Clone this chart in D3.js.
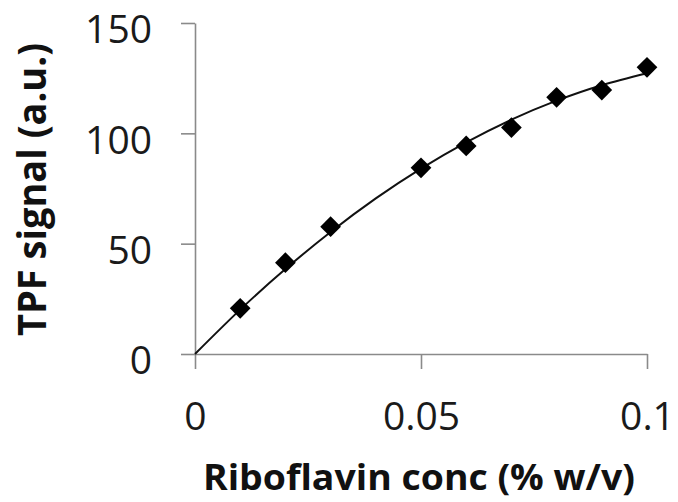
<!DOCTYPE html>
<html lang="en">
<head>
    <meta charset="UTF-8">
    <title>TPF signal vs riboflavin</title>
    <script src="https://cdn.jsdelivr.net/npm/d3@7"></script>
    <style>
        body { margin: 0; background: #fff; }
        text { font-family: "Open Sans", sans-serif; }
    </style>
</head>
<body>

<div id="chart"></div>

<script>
    // measured points (riboflavin % w/v -> TPF signal a.u.)
    const conc = [0.01, 0.02, 0.03, 0.05, 0.06, 0.07, 0.08, 0.09, 0.1]
    const signal = [20.7, 41.4, 57.7, 84.4, 94.3, 102.6, 116.3, 119.6, 129.9]

    // trend line
    const trendX = [0, 0.01, 0.02, 0.03, 0.04, 0.05, 0.06, 0.07, 0.08, 0.09, 0.1]
    const trendY = [0, 20.1, 38.5, 55.3, 70.5, 84.0, 95.9, 106.2, 114.8, 121.8, 127.2]

    const xTicks = [0, 0.05, 0.1]
    const xTickLabels = ["0", "0.05", "0.1"]
    const yTicks = [0, 50, 100, 150]
    const yTickLabels = ["0", "50", "100", "150"]

    const xTitle = "Riboflavin conc (% w/v)"
    const yTitle = "TPF signal (a.u.)"

    var W = 678, H = 502
    var margin = {left: 195, right: 31, top: 23, bottom: 148}

    var svg = d3.select("#chart")
        .append("svg")
        .attr("width", W)
        .attr("height", H)

    svg.append("rect").attr("width", W).attr("height", H).attr("fill", "#fff")

    var x = d3.scaleLinear([0, 0.1], [margin.left, W - margin.right])
    var y = d3.scaleLinear([0, 150], [H - margin.bottom, margin.top])

    var axisColor = "#8a8a8a"

    // x axis
    svg.append("g")
        .attr("transform", "translate(0," + y(0) + ")")
        .call(d3.axisBottom(x)
            .tickValues(xTicks)
            .tickFormat((d, i) => xTickLabels[i])
            .tickSize(15)
            .tickPadding(33)
            .tickSizeOuter(0))
        .call(g => g.select(".domain").attr("stroke", axisColor).attr("stroke-width", 1.6))
        .call(g => g.selectAll(".tick line").attr("stroke", axisColor).attr("stroke-width", 1.6))
        .call(g => g.selectAll(".tick text")
            .attr("font-size", 39)
            .attr("font-family", "Open Sans")
            .attr("fill", "#1a1a1a"))

    // y axis
    svg.append("g")
        .attr("transform", "translate(" + x(0) + ",0)")
        .call(d3.axisLeft(y)
            .tickValues(yTicks)
            .tickFormat((d, i) => yTickLabels[i])
            .tickSize(14)
            .tickPadding(29)
            .tickSizeOuter(0))
        .call(g => g.select(".domain").attr("stroke", axisColor).attr("stroke-width", 1.6))
        .call(g => g.selectAll(".tick line").attr("stroke", axisColor).attr("stroke-width", 1.6))
        .call(g => g.selectAll(".tick text")
            .attr("font-size", 39)
            .attr("font-family", "Open Sans")
            .attr("dy", "0.51em")
            .attr("fill", "#1a1a1a"))

    // trend line
    var line = d3.line()
        .x(d => x(d[0]))
        .y(d => y(d[1]))
        .curve(d3.curveNatural)

    svg.append("path")
        .datum(d3.zip(trendX, trendY))
        .attr("d", line)
        .attr("fill", "none")
        .attr("stroke", "#111")
        .attr("stroke-width", 2)

    // diamond markers
    var diamond = d3.symbol().type(d3.symbolSquare).size(215)
    svg.append("g")
        .selectAll("path")
        .data(d3.zip(conc, signal))
        .enter()
        .append("path")
        .attr("d", diamond)
        .attr("transform", d => "translate(" + x(d[0]) + "," + y(d[1]) + ") rotate(45)")
        .attr("fill", "#000")

    // axis titles
    svg.append("text")
        .attr("x", 419)
        .attr("y", 490)
        .attr("text-anchor", "middle")
        .attr("font-size", 35)
        .attr("font-weight", "bold")
        .attr("textLength", 432)
        .attr("lengthAdjust", "spacingAndGlyphs")
        .attr("fill", "#111")
        .text(xTitle)

    svg.append("text")
        .attr("transform", "translate(46,189.5) rotate(-90)")
        .attr("text-anchor", "middle")
        .attr("font-size", 40)
        .attr("font-weight", "bold")
        .attr("textLength", 293)
        .attr("lengthAdjust", "spacingAndGlyphs")
        .attr("fill", "#111")
        .text(yTitle)
</script>

</body>
</html>
